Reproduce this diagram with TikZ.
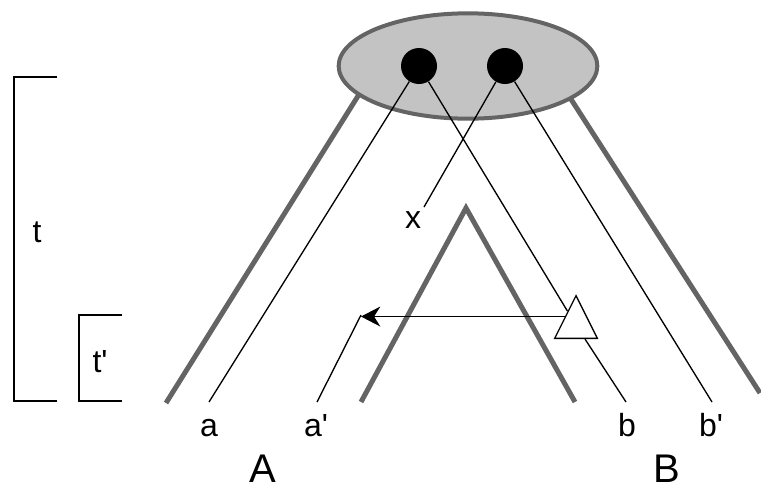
\documentclass[tikz,border=0pt]{standalone}
\usepackage{fontspec}
\setmainfont{Liberation Sans}
\usetikzlibrary{shapes.geometric,arrows.meta,positioning}
\definecolor{branchgray}{HTML}{646464}
\definecolor{popfill}{HTML}{C3C3C3}

\begin{document}
\begin{tikzpicture}[
  x=0.75pt, y=-0.75pt,
  popn/.style   = {ellipse, draw=branchgray, line width=3pt, fill=popfill,
                   minimum width=194pt, minimum height=79pt},
  gene/.style   = {circle, fill=black, minimum size=27pt, inner sep=0pt},
  event/.style  = {isosceles triangle, isosceles triangle stretches=true,
                   shape border rotate=90, draw=black, fill=white, line width=1pt,
                   minimum width=32pt, minimum height=32pt, inner sep=0pt},
  branch/.style = {draw=branchgray, line width=3.75pt},
  lin/.style    = {draw=black, line width=1pt},
  arr/.style    = {lin, -{Stealth[length=14.5pt, width=15pt]}},
  lab/.style    = {anchor=base, inner sep=0pt, font=\fontsize{24}{28}\selectfont},
  big/.style    = {anchor=base, inner sep=0pt, font=\fontsize{30}{36}\selectfont}
]
\useasboundingbox (0,0) rectangle (761,486);

%% Species tree branches
\coordinate (ltop)   at (363,88);
\coordinate (lbot)   at (166,403);
\coordinate (rtop)   at (567,93);
\coordinate (rbot)   at (760,393);
\coordinate (ileft)  at (361,402);
\coordinate (iapex)  at (466,208);
\coordinate (iright) at (575,402);
\draw[branch] (lbot) -- (ltop);
\draw[branch] (rbot) -- (rtop);
\draw[branch] (ileft) -- (iapex) -- (iright);

%% Ancestral population
\node[popn] (pop) at (468,66) {};
\node[gene] (g1)  at (419,66) {};
\node[gene] (g2)  at (505,66) {};

%% Lineage ends
\coordinate (ea)  at (209,402);
\coordinate (eap) at (317,402);
\coordinate (eb)  at (626,402);
\coordinate (ebp) at (712,402);
\coordinate (ex)  at (424,207);
\coordinate (tip) at (361,315);

%% Event
\node[event, anchor=apex] (tr) at (576,294) {};

%% Gene lineages
\draw[lin] (g1) -- (ea);
\draw[lin] (g1) -- (tr);
\draw[lin] (tr) -- (eb);
\draw[lin] (g2) -- (ex);
\draw[lin] (g2) -- (ebp);
\draw[lin] (eap) -- (tip);
\draw[arr] (tr.left side) -- (tr.left side -| tip);

%% Labels
\node[lab] (la)  at (209,436) {a};
\node[lab] (lap) at (316,436) {a\textquotesingle};
\node[lab] (lb)  at (627,436) {b};
\node[lab] (lbp) at (711,436) {b\textquotesingle};
\node[lab] (lx)  at (413,228) {x};
\node[big] (lA)  at (263,482) {A};
\node[big] (lB)  at (667,482) {B};

%% Time scale
\coordinate (tt) at (57,77);
\coordinate (tb) at (57,401);
\coordinate (st) at (122,315);
\coordinate (sb) at (122,401);
\draw[lin] (tt) -- ++(-43,0) |- (tb);
\draw[lin] (st) -- ++(-43,0) |- (sb);
\node[lab] (lt)  at (37,242)  {t};
\node[lab] (ltp) at (100,372) {t\textquotesingle};
\end{tikzpicture}
\end{document}
